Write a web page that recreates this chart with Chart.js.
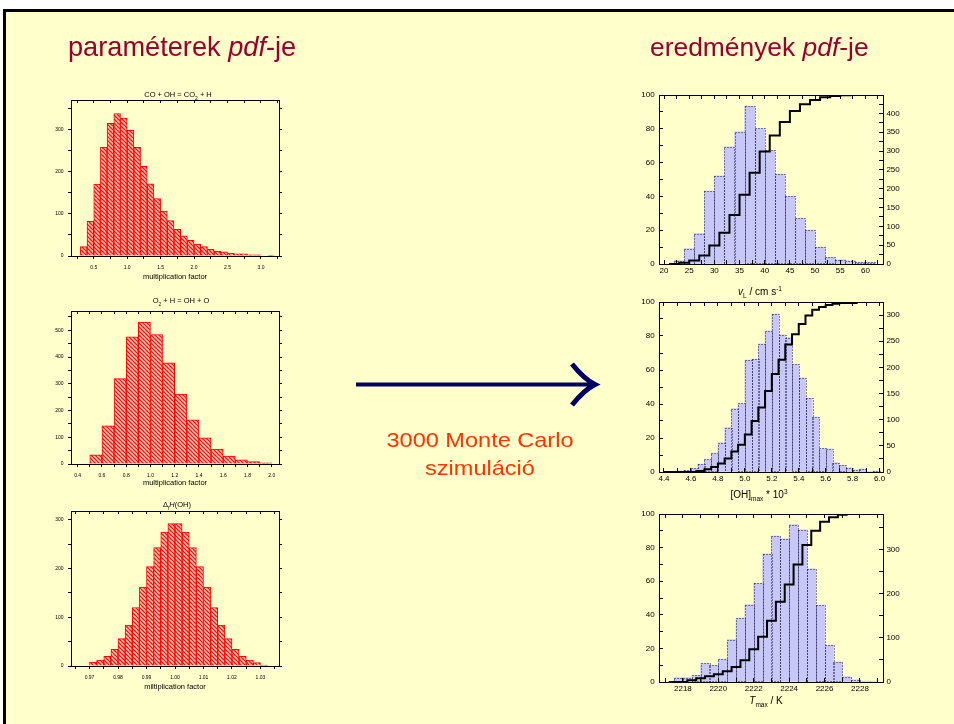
<!DOCTYPE html>
<html>
<head>
<meta charset="utf-8">
<script src="https://cdn.jsdelivr.net/npm/chart.js@4.4.1/dist/chart.umd.min.js"></script>
<style>
  html, body { margin: 0; padding: 0; overflow: hidden; }
  body { width: 954px; height: 724px; position: relative; background: #fff;
         font-family: "Liberation Sans", Arial, Helvetica, sans-serif; }
  #slide { position: absolute; left: 3px; top: 9px; width: 948px; height: 712px; background: #ffffcc;
           border-left: 3px solid #000; border-top: 3px solid #000; }
  canvas { position: absolute; }
  .txt { position: absolute; white-space: nowrap; color: #000; }
  .head { line-height: 30px; color: #99002e; top: 32px; }
  .ctitle { font-size: 7.5px; line-height: 9px; transform: translateX(-50%); }
  .xtitle { font-size: 10px; line-height: 12px; transform: translateX(-50%); }
  sub, sup { font-size: 65%; line-height: 0; }
  #mc { left: 330px; width: 300px; top: 426px; text-align: center; font-size: 21px; line-height: 27.7px;
        color: #ff3300; transform: scaleX(1.12); }
  svg { position: absolute; left: 0; top: 0; }
</style>
</head>
<body>
<div id="slide"></div>

<canvas id="c-co"></canvas>
<canvas id="c-o2"></canvas>
<canvas id="c-dh"></canvas>
<canvas id="c-vl"></canvas>
<canvas id="c-oh"></canvas>
<canvas id="c-t"></canvas>

<svg width="954" height="724">
  <line x1="356" y1="384.5" x2="592" y2="384.5" stroke="#000066" stroke-width="4"/>
  <path d="M572,364 Q584,379 595,384.5 Q584,390 572,405" fill="none" stroke="#000066" stroke-width="5"/>
</svg>

<div class="txt head" style="left:68px; font-size:27.2px">paraméterek <i>pdf</i>-je</div>
<div class="txt head" style="left:650px; font-size:26.4px">eredmények <i>pdf</i>-je</div>
<div class="txt" id="mc">3000 Monte Carlo<br>szimuláció</div>

<div class="txt ctitle" style="left:178px; top:90px">CO + OH = CO<sub>2</sub> + H</div>
<div class="txt ctitle" style="left:181px; top:296px">O<sub>2</sub> + H = OH + O</div>
<div class="txt ctitle" style="left:177px; top:500px">&Delta;<sub>f</sub><i>H</i>(OH)</div>

<div class="txt xtitle" style="left:760px; top:286px"><i>v</i><sub>L</sub> / cm s<sup>-1</sup></div>
<div class="txt xtitle" style="left:759px; top:489px">[OH]<sub>max</sub> * 10<sup>3</sup></div>
<div class="txt xtitle" style="left:766px; top:695px"><i>T</i><sub>max</sub> / K</div>

<script>
// --- parameter pdfs (left column), bin centres and counts ---
const coBins   = [0.35, 0.45, 0.55, 0.65, 0.75, 0.85, 0.95, 1.05, 1.15, 1.25, 1.35, 1.45, 1.55, 1.65, 1.75,
                  1.85, 1.95, 2.05, 2.15, 2.25, 2.35, 2.45, 2.55, 2.65, 2.75, 2.85, 2.95, 3.05, 3.15];
const coCounts = [22, 82, 170, 257, 314, 337, 326, 297, 257, 212, 171, 136, 106, 84, 63,
                  48, 37, 28, 22, 16, 11, 10, 7, 5, 5, 3, 3, 0, 1];

const o2Bins   = [0.55, 0.65, 0.75, 0.85, 0.95, 1.05, 1.15, 1.25, 1.35, 1.45, 1.55, 1.65, 1.75, 1.85, 1.95];
const o2Counts = [34, 143, 319, 475, 531, 484, 378, 261, 165, 98, 56, 30, 16, 9, 4];

const dhBins   = [0.97125, 0.97375, 0.97625, 0.97875, 0.98125, 0.98375, 0.98625, 0.98875, 0.99125,
                  0.99375, 0.99625, 0.99875, 1.00125, 1.00375, 1.00625, 1.00875, 1.01125, 1.01375,
                  1.01625, 1.01875, 1.02125, 1.02375, 1.02625, 1.02875, 1.03125];
const dhCounts = [8, 12, 20, 34, 56, 84, 120, 162, 204, 243, 275, 292, 292, 275, 243, 204, 162, 120,
                  84, 56, 34, 20, 12, 7, 2];

// --- result pdfs (right column): histogram counts + cumulative % ---
const vlBins   = [23, 25, 27, 29, 31, 33, 35, 37, 39, 41, 43, 45, 47, 49, 51, 53, 55, 57, 59, 61];
const vlCounts = [9, 41, 81, 194, 234, 311, 351, 419, 360, 302, 239, 180, 122, 90, 45, 18, 11, 9, 5, 5];
const vlCumX   = [21, 23, 25, 27, 29, 31, 33, 35, 37, 39, 41, 43, 45, 47, 49, 51, 53, 55, 57, 61.5];
const vlCumPct = [0, 0.8, 2, 5, 11, 18.5, 29, 41, 54, 66.5, 76, 84, 90.5, 94.5, 97, 98.6, 99.4, 99.8, 100, 100];

const ohBins   = [4.525, 4.575, 4.625, 4.675, 4.725, 4.775, 4.825, 4.875, 4.925, 4.975, 5.025, 5.075,
                  5.125, 5.175, 5.225, 5.275, 5.325, 5.375, 5.425, 5.475, 5.525, 5.575, 5.625, 5.675,
                  5.725, 5.775, 5.825, 5.875, 5.925, 5.975];
const ohCounts = [2, 3, 7, 15, 24, 36, 56, 85, 121, 131, 214, 216, 245, 270, 302, 262, 257, 206,
                  180, 141, 105, 45, 44, 18, 13, 8, 4, 6, 1, 2];
const ohCumX   = [4.40, 4.64, 4.70, 4.75, 4.80, 4.85, 4.90, 4.95, 5.00, 5.05, 5.10, 5.15, 5.20,
                  5.25, 5.30, 5.35, 5.40, 5.45, 5.50, 5.55, 5.60, 5.65, 5.70, 5.83, 5.95];
const ohCumPct = [0, 0.6, 1.6, 3, 5, 8, 12, 16, 22, 30, 38, 47.6, 57.7, 66, 75, 81, 87, 92, 95.5,
                  97, 98.2, 99, 99.4, 100, 100];

const tBins    = [2217.75, 2218.25, 2218.75, 2219.25, 2219.75, 2220.25, 2220.75, 2221.25, 2221.75,
                  2222.25, 2222.75, 2223.25, 2223.75, 2224.25, 2224.75, 2225.25, 2225.75, 2226.25,
                  2226.75, 2227.25, 2227.75, 2228.25, 2228.75];
const tCounts  = [10, 10, 15, 42, 38, 52, 96, 144, 175, 223, 290, 330, 324, 356, 344, 256, 174, 83,
                  45, 12, 5, 2, 2];
const tCumX    = [2217.2, 2218.25, 2218.75, 2219.25, 2219.75, 2220.25, 2220.75, 2221.25, 2221.75,
                  2222.25, 2222.75, 2223.25, 2223.75, 2224.25, 2224.75, 2225.25, 2225.75, 2226.25,
                  2226.75, 2227.25, 2228.8];
const tCumPct  = [0, 1, 2.2, 3.4, 4.6, 6.4, 9, 13, 19.5, 27, 36.4, 47.7, 58, 70, 81.5, 90, 95.4, 98,
                  99.6, 100, 100];

Chart.defaults.font.family = '"Liberation Sans", Arial, Helvetica, sans-serif';
Chart.defaults.color = '#000';

// label only the major ticks, minor ones stay as bare tick marks
function onStep(step, digits) {
    return v => Math.abs(v / step - Math.round(v / step)) < 1e-6 ? v.toFixed(digits) : '';
}

function fixed(prop, size) {
    return s => {
        s[prop] = size;
        s.paddingLeft = s.paddingRight = s.paddingTop = s.paddingBottom = 0;
    };
}

function place(id, area, m) {
    const c = document.getElementById(id);
    const w = area[2] - area[0] + m.l + m.r;
    const h = area[3] - area[1] + m.t + m.b;
    c.width = w; c.height = h;
    c.style.left = (area[0] - m.l) + 'px';
    c.style.top  = (area[1] - m.t) + 'px';
    c.style.width = w + 'px'; c.style.height = h + 'px';
    return c;
}

function axis(o) {
    const horiz = o.axis === 'x';
    return {
        type: 'linear', axis: o.axis, position: o.position, min: o.min, max: o.max, offset: false,
        grid: { offset: false, drawOnChartArea: false, color: '#000', tickLength: o.tick, z: 1 },
        border: { color: '#000', width: 1, z: 1 },
        ticks: o.major ? {
            stepSize: o.step, includeBounds: false, autoSkip: false, maxRotation: 0,
            padding: o.pad, font: { size: o.font }, color: '#000',
            callback: onStep(o.major, o.digits || 0),
        } : { stepSize: o.step, includeBounds: false, display: false },
        title: o.title ? { display: true, text: o.title, font: { size: 7.5 }, color: '#000', padding: 0 }
                       : { display: false },
        afterFit: fixed(horiz ? 'height' : 'width', o.size),
    };
}

const baseOptions = {
    responsive: false, animation: false, events: [], devicePixelRatio: 1,
    layout: { padding: 0 },
    plugins: { legend: { display: false }, tooltip: { enabled: false } },
};

function hatch(canvas) {
    const s = 4;
    const tile = document.createElement('canvas');
    tile.width = s; tile.height = s;
    const g = tile.getContext('2d');
    g.fillStyle = '#ffcab4';
    g.fillRect(0, 0, s, s);
    g.strokeStyle = '#ff1010';
    g.lineWidth = 1.3;
    g.beginPath();
    for (let i = -s; i <= s; i += s) { g.moveTo(i, 0); g.lineTo(i + s, s); }
    g.stroke();
    return canvas.getContext('2d').createPattern(tile, 'repeat');
}

function paramChart(id, area, bottom, bins, counts, xr, xs, yMax, ys, xTitle) {
    const m = { l: 30, r: 6, t: 6, b: bottom };
    const canvas = place(id, area, m);
    new Chart(canvas, {
        type: 'bar',
        data: { datasets: [{
            data: bins.map((b, i) => ({ x: b, y: counts[i] })),
            xAxisID: 'x', yAxisID: 'y',
            backgroundColor: hatch(canvas), borderColor: '#ff0000', borderWidth: 1,
            barPercentage: 1, categoryPercentage: 1, grouped: false,
        }] },
        options: { ...baseOptions, scales: {
            x:  axis({ axis: 'x', position: 'bottom', min: xr[0], max: xr[1], step: xs[0], major: xs[1],
                       digits: xs[2], tick: 3, pad: 6, font: 5, size: m.b, title: xTitle }),
            y:  axis({ axis: 'y', position: 'left', min: 0, max: yMax, step: ys[0], major: ys[1],
                       tick: 3, pad: 4.4, font: 5, size: m.l }),
            x2: axis({ axis: 'x', position: 'top', min: xr[0], max: xr[1], step: xs[0], tick: -3, size: m.t }),
            y2: axis({ axis: 'y', position: 'right', min: 0, max: yMax, step: ys[0], tick: 3, size: m.r }),
        } },
    });
}

// dotted outline round every histogram bar (right column)
const dottedEdges = {
    id: 'dottedEdges',
    afterDatasetDraw(chart, args) {
        if (args.meta.type !== 'bar') return;
        const ctx = chart.ctx, a = chart.chartArea;
        ctx.save();
        ctx.beginPath();
        ctx.rect(a.left, a.top, a.right - a.left, a.bottom - a.top);
        ctx.clip();
        ctx.strokeStyle = '#101040';
        ctx.lineWidth = 1;
        ctx.setLineDash([1, 2]);
        args.meta.data.forEach(bar => {
            const { x, y, base, width } = bar.getProps(['x', 'y', 'base', 'width'], true);
            if (base - y < 0.5) return;
            ctx.strokeRect(Math.round(x - width / 2) + 0.5, Math.round(y) + 0.5,
                           Math.round(width), Math.round(base - y));
        });
        ctx.restore();
    },
};

function resultChart(id, area, bins, counts, cumX, cumPct, xr, xs, rMax, rs) {
    const m = { l: 30, r: 24, t: 5, b: 16 };
    const canvas = place(id, area, m);
    new Chart(canvas, {
        type: 'bar',
        data: { datasets: [
            { type: 'line', data: cumX.map((x, i) => ({ x, y: cumPct[i] })), xAxisID: 'x', yAxisID: 'y',
              borderColor: '#000', borderWidth: 2, stepped: true, pointRadius: 0, fill: false, order: 0 },
            { type: 'bar', data: bins.map((b, i) => ({ x: b, y: counts[i] })), xAxisID: 'x', yAxisID: 'y2',
              backgroundColor: '#c8c8f8', borderWidth: 0, barPercentage: 1, categoryPercentage: 1,
              grouped: false, order: 1 },
        ] },
        plugins: [dottedEdges],
        options: { ...baseOptions, scales: {
            x:  axis({ axis: 'x', position: 'bottom', min: xr[0], max: xr[1], step: xs[0], major: xs[1],
                       digits: xs[2], tick: -4, pad: 5.9, font: 8, size: m.b }),
            y:  axis({ axis: 'y', position: 'left', min: 0, max: 100, step: 10, major: 20,
                       tick: -4, pad: 8.3, font: 8, size: m.l }),
            x2: axis({ axis: 'x', position: 'top', min: xr[0], max: xr[1], step: xs[0], tick: -4, size: m.t }),
            y2: axis({ axis: 'y', position: 'right', min: 0, max: rMax, step: rs[0], major: rs[1],
                       tick: -4, pad: 7.4, font: 8, size: m.r }),
        } },
    });
}

// chart areas as [left, top, right, bottom] in page pixels
paramChart('c-co', [71, 100, 279, 256], 25, coBins, coCounts, [0.16, 3.27], [0.25, 0.5, 1], 369, [50, 100],
           'multiplication factor');
paramChart('c-o2', [71, 311, 279, 464], 23, o2Bins, o2Counts, [0.345, 2.06], [0.1, 0.2, 1], 572, [50, 100],
           'multiplication factor');
paramChart('c-dh', [71, 511, 279, 666], 25, dhBins, dhCounts, [0.9635, 1.0365], [0.005, 0.01, 2], 318, [50, 100],
           'miltiplication factor');

resultChart('c-vl', [659, 95, 883, 264], vlBins, vlCounts, vlCumX, vlCumPct, [19, 63.5], [2.5, 5, 0], 449, [25, 50]);
resultChart('c-oh', [659, 302, 883, 472], ohBins, ohCounts, ohCumX, ohCumPct, [4.363, 6.025], [0.1, 0.2, 1], 325, [25, 50]);
resultChart('c-t',  [659, 514, 883, 682], tBins, tCounts, tCumX, tCumPct, [2216.65, 2229.3], [1, 2, 0], 380, [50, 100]);
</script>
</body>
</html>
